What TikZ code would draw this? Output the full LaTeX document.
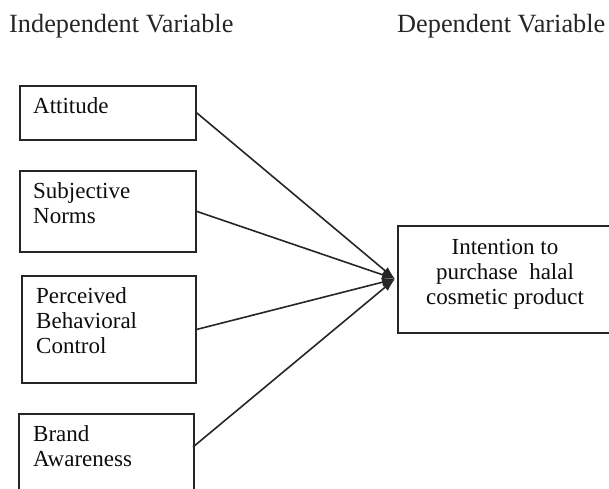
\documentclass[tikz,border=0pt]{standalone}
\usepackage{fontspec}
\setmainfont{Liberation Serif}
\usetikzlibrary{arrows.meta}
\begin{document}
\begin{tikzpicture}[x=1pt,y=-1pt,
  box/.style={draw=black!85, line width=1.8pt, inner sep=0pt, anchor=north west},
  title/.style={text=black!85, inner sep=0pt, font=\fontsize{26.3}{30}\selectfont, anchor=base west},
  lbl/.style={text=black!95, inner sep=0pt, font=\fontsize{23}{25}\selectfont},
  conn/.style={draw=black!85, line width=1.6pt, -{Latex[length=13pt,width=9pt]}}]
\useasboundingbox (0,0) rectangle (609,488);
\clip (0,0) rectangle (609,488);
% titles
\node[title] (iv) at (9,32) {Independent Variable};
\node[title] (dv) at (397,32) {Dependent Variable};
% boxes
\node[box, minimum width=176pt, minimum height=54pt] (att) at (19,85) {};
\node[box, minimum width=176pt, minimum height=81pt] (sub) at (19,170) {};
\node[box, minimum width=174pt, minimum height=107pt] (pbc) at (21,275) {};
\node[box, minimum width=175pt, minimum height=100pt] (ba) at (18,413) {};
\node[box, minimum width=215pt, minimum height=107pt] (int) at (397,225) {};
% labels
\node[lbl, anchor=base west] (tatt) at (33,113) {Attitude};
\node[lbl, anchor=base west] (tsub) at (33,198) {\begin{tabular}[t]{@{}l@{}}Subjective\\Norms\end{tabular}};
\node[lbl, anchor=base west] (tpbc) at (36,303) {\begin{tabular}[t]{@{}l@{}}Perceived\\Behavioral\\Control\end{tabular}};
\node[lbl, anchor=base west] (tba) at (33,441) {\begin{tabular}[t]{@{}l@{}}Brand\\Awareness\end{tabular}};
\node[lbl, anchor=base] (tint) at (505,254) {\begin{tabular}[t]{@{}c@{}}Intention to\\purchase~~halal\\cosmetic product\end{tabular}};
% connectors
\coordinate (baout) at (193,447);
\coordinate (tip) at (395,279);
\draw[conn] (att.east) -- (tip);
\draw[conn] (sub.east) -- (tip);
\draw[conn] (pbc.east) -- (tip);
\draw[conn] (baout) -- (tip);
\end{tikzpicture}
\end{document}
